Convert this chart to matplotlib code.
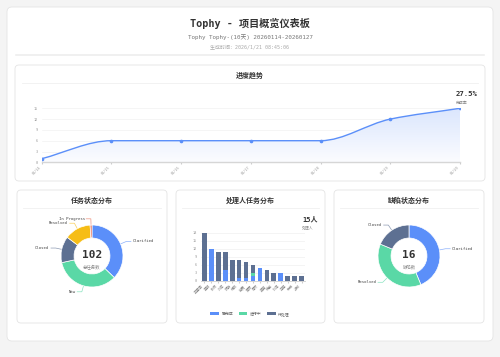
#!/usr/bin/env python3
"""Tophy project overview dashboard."""

import numpy as np
import matplotlib
matplotlib.use("Agg")
import matplotlib.pyplot as plt
from matplotlib.patches import FancyBboxPatch, Patch, PathPatch
from matplotlib.path import Path
from matplotlib.colors import LinearSegmentedColormap

plt.rcParams['font.family'] = ['DejaVu Sans Mono', 'Noto Sans CJK SC']

# ---- data ----
trend_dates = ["01/14", "01/15", "01/16", "01/17", "01/18", "01/19", "01/20"]
trend_values = [1, 6, 6, 6, 6, 12, 15]

task_status = ["Clarified", "New", "Closed", "Resolved", "In Progress"]
task_counts = [38, 35, 14, 14, 1]

bug_status = ["Clarified", "Resolved", "Closed"]
bug_counts = [7, 6, 3]

handlers = ["王建国", "李明", "张伟", "刘洋", "陈静", "杨帆", "赵磊", "黄丽",
            "周杰", "吴强", "徐敏", "孙涛", "马超", "朱琳", "胡斌"]
done = [0, 12, 0, 4, 0, 1, 1, 2, 5, 0, 0, 3, 0, 0, 0]
doing = [0, 0, 0, 0, 0, 0, 0, 1, 0, 0, 0, 0, 0, 0, 0]
todo = [18, 0, 11, 7, 8, 7, 6, 3, 0, 4, 3, 0, 2, 2, 2]

C_BLUE, C_GREEN, C_DARK, C_YEL, C_RED = "#5B8FF9", "#5AD8A6", "#5D7092", "#F6BD16", "#E8684A"

W, H = 500, 357
fig = plt.figure(figsize=(5, 3.57), dpi=100)
fig.patch.set_facecolor("#f4f4f4")


def px(x0, y0, x1, y1):
    return [x0 / W, 1 - y1 / H, (x1 - x0) / W, (y1 - y0) / H]


bg = fig.add_axes([0, 0, 1, 1])
bg.set_xlim(0, W)
bg.set_ylim(H, 0)
bg.axis("off")


def card(x0, y0, x1, y1, r=4):
    bg.add_patch(FancyBboxPatch((x0, y0), x1 - x0, y1 - y0,
                                boxstyle=f"round,pad=0,rounding_size={r}",
                                fc="white", ec="#e4e4e4", lw=0.6))


# outer card + header
card(7, 7, 493, 341, r=5)
bg.text(250, 23, "Tophy - 项目概览仪表板", ha="center", va="center",
        fontsize=7.3, fontweight="bold", color="#333333")
bg.text(250, 37, "Tophy Tophy-(10天) 20260114-20260127", ha="center", va="center",
        fontsize=4.2, color="#777777")
bg.text(250, 46.5, "生成时间：2026/1/21 08:45:06", ha="center", va="center",
        fontsize=3.6, color="#aaaaaa")
bg.plot([16, 484], [55, 55], color="#eeeeee", lw=1.2)

# section cards
card(15, 65, 485, 181)
bg.text(250, 75, "进度趋势", ha="center", va="center", fontsize=5, fontweight="bold", color="#333")
bg.plot([22, 478], [83, 83], color="#f0f0f0", lw=0.6)

for (x0, x1, title) in [(17, 167, "任务状态分布"), (176, 325, "处理人任务分布"), (334, 484, "缺陷状态分布")]:
    card(x0, 190, x1, 323)
    bg.text((x0 + x1) / 2, 200, title, ha="center", va="center", fontsize=5,
            fontweight="bold", color="#333")
    bg.plot([x0 + 6, x1 - 6], [207.5, 207.5], color="#f0f0f0", lw=0.6)

# ---- progress trend ----
ax = fig.add_axes(px(41.7, 108.3, 460, 162.3))
xs = np.arange(len(trend_values))
ys = np.array(trend_values, dtype=float)
d = np.diff(ys)
m = np.zeros_like(ys)
m[0], m[-1] = d[0], d[-1]
for k in range(1, len(ys) - 1):
    if d[k - 1] * d[k] > 0:
        m[k] = 2 * d[k - 1] * d[k] / (d[k - 1] + d[k])
verts = [(xs[0], ys[0])]
codes = [Path.MOVETO]
for i in range(len(xs) - 1):
    verts += [(xs[i] + 1 / 3, ys[i] + m[i] / 3),
              (xs[i + 1] - 1 / 3, ys[i + 1] - m[i + 1] / 3),
              (xs[i + 1], ys[i + 1])]
    codes += [Path.CURVE4] * 3
line_path = Path(verts, codes)
fill_path = Path(verts + [(xs[-1], 0), (xs[0], 0), (xs[0], ys[0])],
                 codes + [Path.LINETO, Path.LINETO, Path.CLOSEPOLY])
grad = LinearSegmentedColormap.from_list("g", ["#fbfcff", "#dbe6fd"])
im = ax.imshow(np.linspace(0, 1, 100).reshape(-1, 1), cmap=grad, aspect="auto",
               extent=(xs[0], xs[-1], 0, 15), origin="lower", zorder=1)
im.set_clip_path(PathPatch(fill_path, transform=ax.transData))
ax.add_patch(PathPatch(line_path, fc="none", ec=C_BLUE, lw=1.0, zorder=3))
ax.plot(xs, ys, "o", ms=1.6, color=C_BLUE, zorder=4)
ax.set_xlim(xs[0], xs[-1])
ax.set_ylim(0, 15)
ax.set_yticks(range(0, 16, 3))
ax.set_xticks(xs)
ax.set_xticklabels(trend_dates, rotation=45, ha="right", fontsize=2.6, color="#999")
ax.tick_params(axis="y", labelsize=2.6, labelcolor="#999", length=0, pad=3)
ax.tick_params(axis="x", length=1.5, color="#ccc", pad=1)
ax.grid(axis="y", color="#f2f2f2", lw=0.5)
ax.set_axisbelow(True)
for s in ["top", "right", "left"]:
    ax.spines[s].set_visible(False)
ax.spines["bottom"].set_color("#d6d6d6")
ax.spines["bottom"].set_linewidth(1.0)
ax.patch.set_alpha(0)
rate = sum(done) / sum(task_counts) * 100
bg.text(456, 94.3, f"{rate:.1f}%", ha="left", va="center", fontsize=5.2,
        fontweight="bold", color="#333")
bg.text(456, 102.7, "完成率", ha="left", va="center", fontsize=2.8, color="#888")


# ---- donuts ----
def donut(cx, cy, values, labels, colors, big, small):
    r = 31.0
    a = fig.add_axes(px(cx - 70, cy - 46, cx + 70, cy + 46))
    a.axis("off")
    wedges, _ = a.pie(values, colors=colors, startangle=90, counterclock=False,
                      radius=1, wedgeprops=dict(width=0.42, edgecolor="white", linewidth=0.5))
    a.set_xlim(-70 / r, 70 / r)
    a.set_ylim(-46 / r, 46 / r)
    a.set_aspect("auto")
    for w, lab, c in zip(wedges, labels, colors):
        ang = np.deg2rad((w.theta1 + w.theta2) / 2)
        ca, sa = np.cos(ang), np.sin(ang)
        p1 = (1.02 * ca, 1.02 * sa)
        p2 = (1.2 * ca, 1.2 * sa)
        sgn = 1 if ca >= 0.01 else -1
        p3 = (p2[0] + sgn * 0.15, p2[1])
        a.plot([p1[0], p2[0], p3[0]], [p1[1], p2[1], p3[1]], color=c, lw=0.5, alpha=0.7)
        a.text(p3[0] + sgn * 0.05, p3[1], lab, ha="left" if sgn > 0 else "right",
               va="center", fontsize=2.9, color="#444")
    a.text(0, 0.02, big, ha="center", va="center", fontsize=8, fontweight="bold", color="#333")
    a.text(0, -0.36, small, ha="center", va="center", fontsize=3.2, color="#888")


donut(92, 256, task_counts, task_status, [C_BLUE, C_GREEN, C_DARK, C_YEL, C_RED],
      str(sum(task_counts)), "总任务数")
donut(409, 256, bug_counts, bug_status, [C_BLUE, C_GREEN, C_DARK],
      str(sum(bug_counts)), "缺陷数")

# ---- handler bar chart ----
bx = fig.add_axes(px(201, 233, 305, 281))
pos = np.arange(len(handlers))
bw = 0.68
bx.bar(pos, done, bw, color=C_BLUE, zorder=3)
bx.bar(pos, doing, bw, bottom=done, color=C_GREEN, zorder=3)
bx.bar(pos, todo, bw, bottom=np.add(done, doing), color=C_DARK, zorder=3)
bx.set_xlim(-0.5, len(handlers) - 0.5)
bx.set_ylim(0, 18)
bx.set_yticks(range(0, 19, 3))
bx.set_xticks(pos)
bx.set_xticklabels(handlers, rotation=45, ha="right", fontsize=2.6, color="#888")
bx.tick_params(axis="y", labelsize=2.6, labelcolor="#999", length=0, pad=3)
bx.tick_params(axis="x", length=1.2, color="#ccc", pad=1)
bx.grid(axis="y", color="#f0f0f0", lw=0.5)
bx.set_axisbelow(True)
for s in ["top", "right", "left"]:
    bx.spines[s].set_visible(False)
bx.spines["bottom"].set_color("#cccccc")
bx.spines["bottom"].set_linewidth(0.6)
bx.patch.set_alpha(0)
bg.text(302, 219, f"{len(handlers)}人", ha="left", va="center", fontsize=5,
        fontweight="bold", color="#333")
bg.text(302, 227.5, "处理人", ha="left", va="center", fontsize=2.8, color="#888")

legend_elements = [Patch(facecolor=C_BLUE, label="已完成"),
                   Patch(facecolor=C_GREEN, label="进行中"),
                   Patch(facecolor=C_DARK, label="待处理")]
fig.legend(handles=legend_elements, loc="center", bbox_to_anchor=(250 / W, 1 - 314 / H),
           ncol=3, fontsize=2.8, frameon=False, handlelength=2.2, handleheight=1.0,
           columnspacing=1.5, handletextpad=0.6, labelcolor="#666")

plt.savefig("out.png", dpi=100, facecolor=fig.get_facecolor())
